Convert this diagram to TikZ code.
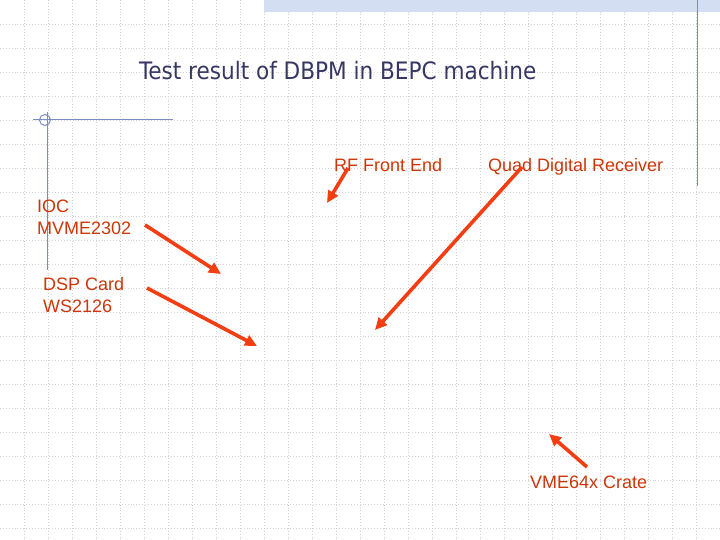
\documentclass[tikz,border=0pt]{standalone}
\usepackage{fontspec}
\setmainfont{Liberation Sans}
\newfontfamily\titlefont{DejaVu Sans Condensed}
\usetikzlibrary{arrows.meta,patterns}
\definecolor{gridgray}{RGB}{212,212,212}
\definecolor{slate}{RGB}{125,140,190}
\definecolor{titleblue}{RGB}{55,55,100}
\definecolor{labelred}{RGB}{204,55,10}
\definecolor{arrowred}{RGB}{242,62,18}
\definecolor{barblue}{RGB}{212,222,242}

\begin{document}
\begin{tikzpicture}[x=1pt,y=-1pt,>={Triangle[length=12pt,width=11pt]},
  gridline/.style={gridgray,line width=0.9pt,dotted},
  frameline/.style={slate,line width=1pt},
  label/.style={labelred,font=\fontsize{18}{22}\selectfont,anchor=base west,inner sep=0pt},
  pointer/.style={->,arrowred,line width=3.6pt}]
  \useasboundingbox (0,0) rectangle (720,540);
  \fill[white] (0,0) rectangle (720,540);
  % background grid
  \foreach \i in {1,...,29} \draw[gridline] (24*\i+0.5,0) -- (24*\i+0.5,540);
  \foreach \j in {1,...,22} \draw[gridline] (0,24*\j+0.7) -- (720,24*\j+0.7);
  % slide frame
  \fill[barblue] (264,0) rectangle (720,12.5);
  \draw[frameline] (697,0) -- (697,186);
  \draw[frameline] (33,120) -- (173,120);
  \draw[frameline] (47,112) -- (47,270);
  \draw[frameline] (45,120) circle (5.5);
  % title
  \node[titleblue,font=\titlefont\fontsize{24}{28}\selectfont,anchor=base west,inner sep=0pt]
    (title) at (139,79.3) {Test result of DBPM in BEPC machine};
  % labels
  \node[label] (rf) at (334,171.5) {RF Front End};
  \node[label] (quad) at (488,171.5) {Quad Digital Receiver};
  \node[label] (ioc) at (37,212.5) {IOC};
  \node[label] (mvme) at (37,235) {MVME2302};
  \node[label] (dsp) at (43,290.5) {DSP Card};
  \node[label] (ws) at (43,312.5) {WS2126};
  \node[label] (crate) at (530,488.5) {VME64x Crate};
  % arrow ends
  \coordinate (rf tail) at (348,168);   \coordinate (rf tip) at (327,203);
  \coordinate (quad tail) at (522,167); \coordinate (quad tip) at (375,330);
  \coordinate (ioc tail) at (145,225);  \coordinate (ioc tip) at (221,274);
  \coordinate (dsp tail) at (147,288);  \coordinate (dsp tip) at (257,346);
  \coordinate (crate tail) at (587,467); \coordinate (crate tip) at (549,434);
  \foreach \a in {rf,quad,ioc,dsp,crate}
    \draw[pointer] (\a\space tail) -- (\a\space tip);
\end{tikzpicture}
\end{document}
